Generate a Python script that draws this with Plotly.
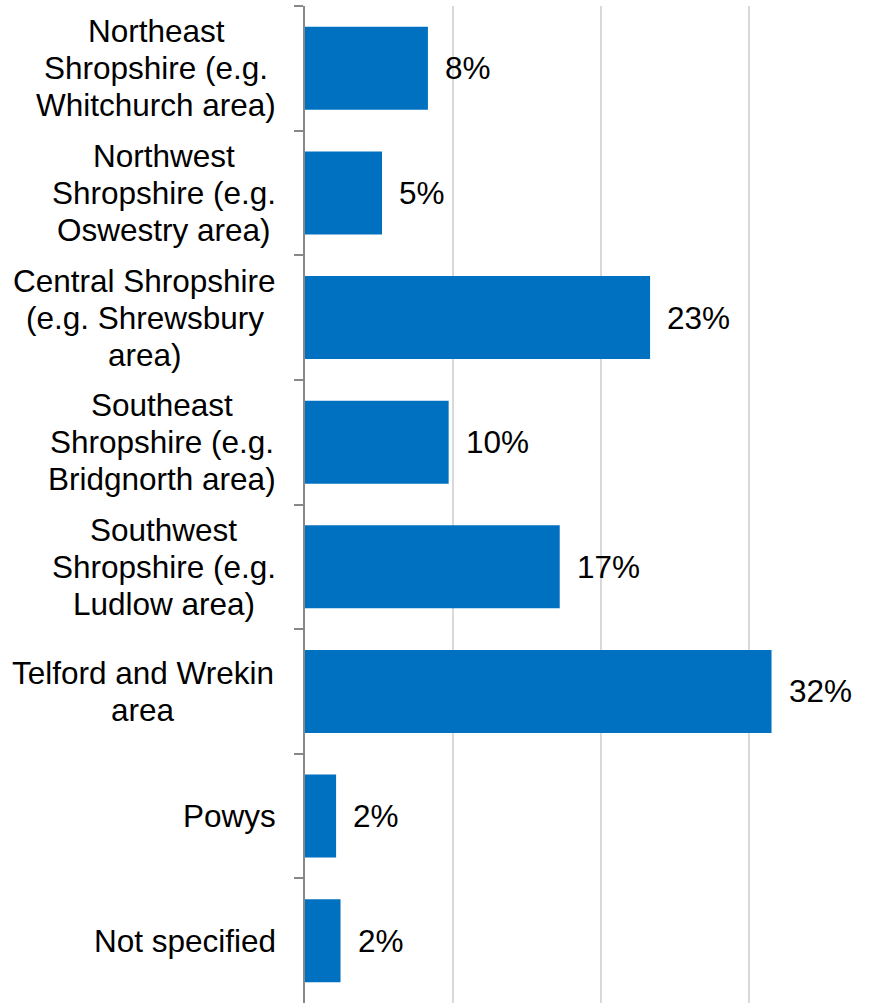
import plotly.graph_objects as go

categories = [
    "Northeast<br>Shropshire (e.g.<br>Whitchurch area)",
    "Northwest<br>Shropshire (e.g.<br>Oswestry area)",
    "Central Shropshire<br>(e.g. Shrewsbury<br>area)",
    "Southeast<br>Shropshire (e.g.<br>Bridgnorth area)",
    "Southwest<br>Shropshire (e.g.<br>Ludlow area)",
    "Telford and Wrekin<br>area",
    "Powys",
    "Not specified",
]
values = [8.3, 5.2, 23.3, 9.7, 17.2, 31.5, 2.1, 2.4]
labels = ["8%", "5%", "23%", "10%", "17%", "32%", "2%", "2%"]

FONT = "Liberation Sans, Arial, sans-serif"
FS = 31.5
LINE_H = 37
LABEL_GAP = 29  # px between label block right edge and axis

# Arial / Liberation Sans advance widths (per 1000 em) for block-width estimate
AW = {" ": 278, "(": 333, ")": 333, ".": 278, "a": 556, "b": 556, "c": 500, "d": 556,
      "e": 556, "f": 278, "g": 556, "h": 556, "i": 222, "j": 222, "k": 500, "l": 222,
      "m": 833, "n": 556, "o": 556, "p": 556, "q": 556, "r": 333, "s": 500, "t": 278,
      "u": 556, "v": 500, "w": 722, "x": 500, "y": 500, "z": 500, "B": 667, "C": 722,
      "L": 556, "N": 722, "O": 778, "P": 667, "S": 667, "T": 611, "W": 944}


def text_w(s):
    return sum(AW.get(c, 556) for c in s) * FS / 1000.0


fig = go.Figure(
    go.Bar(
        y=categories,
        x=values,
        orientation="h",
        marker=dict(color="#0070C0", line=dict(width=0)),
        hoverinfo="skip",
    )
)

annotations = []
for cat in categories:
    lines = cat.split("<br>")
    n = len(lines)
    block_w = max(text_w(ln) for ln in lines)
    cx = -LABEL_GAP - block_w / 2.0
    for i, ln in enumerate(lines):
        annotations.append(dict(
            x=0, xref="paper", y=cat, yref="y",
            text=ln, showarrow=False, xanchor="center", yanchor="middle",
            xshift=cx, yshift=-(i - (n - 1) / 2.0) * LINE_H,
            font=dict(family=FONT, size=FS, color="#000000"),
        ))

for cat, v, lab in zip(categories, values, labels):
    annotations.append(dict(
        x=v, xref="x", y=cat, yref="y",
        text=lab, showarrow=False, xanchor="left", yanchor="middle",
        xshift=15,
        font=dict(family=FONT, size=FS, color="#000000"),
    ))

fig.update_layout(
    width=890, height=1003,
    margin=dict(l=305, r=0, t=6, b=0),
    paper_bgcolor="white", plot_bgcolor="white",
    bargap=0.334,
    showlegend=False,
    annotations=annotations,
    xaxis=dict(
        range=[0, 39.5], dtick=10, tick0=0,
        showgrid=True, gridcolor="#D9D9D9", gridwidth=2,
        showticklabels=False, zeroline=False, showline=False, ticks="",
        fixedrange=True,
    ),
    yaxis=dict(
        categoryorder="array", categoryarray=categories,
        autorange="reversed",
        showline=True, linecolor="#888888", linewidth=2,
        ticks="outside", tickson="boundaries", ticklen=9,
        tickcolor="#888888", tickwidth=2,
        showticklabels=False, showgrid=False, zeroline=False,
        fixedrange=True,
    ),
)

fig.write_html(
    "out.html",
    config={"displayModeBar": False},
    post_script="document.body.style.margin='0';",
)
